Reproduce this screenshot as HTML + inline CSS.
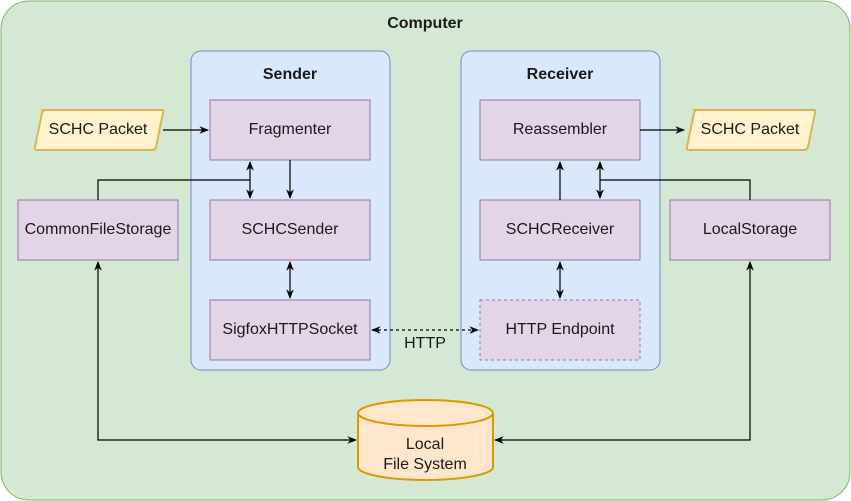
<!DOCTYPE html>
<html><head><meta charset="utf-8"><style>html,body{margin:0;padding:0;background:#fff}svg{display:block}text{font-family:"Liberation Sans",Arial,sans-serif;font-size:16px;fill:#1a1a1a}</style></head>
<body>
<svg width="851" height="501" viewBox="0 0 851 501" xmlns="http://www.w3.org/2000/svg">
<defs>
<marker id="a" viewBox="0 0 10 10" refX="9" refY="5" markerWidth="8" markerHeight="8" orient="auto-start-reverse"><path d="M0,1 L10,5 L0,9 L3,5 Z" fill="#000"/></marker>
</defs>
<rect x="1" y="1" width="849" height="499" rx="28" fill="#d5e8d4" stroke="#82b366"/>
<text x="425" y="28" text-anchor="middle" font-weight="bold">Computer</text>
<rect x="191" y="51" width="199" height="319" rx="10" fill="#dae8fc" stroke="#6c8ebf"/>
<text x="290" y="79" text-anchor="middle" font-weight="bold">Sender</text>
<rect x="461" y="51" width="199" height="319" rx="10" fill="#dae8fc" stroke="#6c8ebf"/>
<text x="560" y="79" text-anchor="middle" font-weight="bold">Receiver</text>
<g fill="#e1d5e7" stroke="#9673a6">
<rect x="210" y="100" width="160" height="60"/>
<rect x="210" y="200" width="160" height="60"/>
<rect x="210" y="300" width="160" height="60"/>
<rect x="480" y="100" width="160" height="60"/>
<rect x="480" y="200" width="160" height="60"/>
<rect x="480" y="300" width="160" height="60" stroke-dasharray="3,3"/>
<rect x="18" y="200" width="160" height="60"/>
<rect x="670" y="200" width="160" height="60"/>
</g>
<g text-anchor="middle">
<text x="290" y="134">Fragmenter</text>
<text x="290" y="234">SCHCSender</text>
<text x="290" y="334">SigfoxHTTPSocket</text>
<text x="560" y="134">Reassembler</text>
<text x="560" y="234">SCHCReceiver</text>
<text x="560" y="334">HTTP Endpoint</text>
<text x="98" y="234">CommonFileStorage</text>
<text x="750" y="234">LocalStorage</text>
</g>
<path d="M41,110 L162,110 Q164,110 163,113 L156,147 Q155,150 152,150 L37,150 Q34,150 35,147 L42,113 Q43,110 46,110 Z" fill="#fff2cc" stroke="#d6b656" stroke-width="2"/>
<text x="98" y="134" text-anchor="middle">SCHC Packet</text>
<path d="M693,110 L814,110 Q816,110 815,113 L808,147 Q807,150 804,150 L689,150 Q686,150 687,147 L694,113 Q695,110 698,110 Z" fill="#fff2cc" stroke="#d6b656" stroke-width="2"/>
<text x="750" y="134" text-anchor="middle">SCHC Packet</text>
<path d="M358,413 L358,467 A67.5,13 0 0 0 493,467 L493,413" fill="#ffe6cc" stroke="#d79b00" stroke-width="2"/>
<ellipse cx="425.5" cy="413" rx="67.5" ry="13" fill="#ffe6cc" stroke="#d79b00" stroke-width="2"/>
<text x="425" y="449" text-anchor="middle">Local</text>
<text x="425" y="469" text-anchor="middle">File System</text>
<g stroke="#000" fill="none" stroke-width="1.2">
<path d="M163,130 H208" marker-end="url(#a)"/>
<path d="M290,160 V198" marker-end="url(#a)"/>
<path d="M250,162 V198" marker-start="url(#a)" marker-end="url(#a)"/>
<path d="M98,200 V180 H250"/>
<path d="M290,262 V298" marker-start="url(#a)" marker-end="url(#a)"/>
<path d="M372,330 H478" stroke-dasharray="3,3" marker-start="url(#a)" marker-end="url(#a)"/>
<path d="M98,262 V440 H356" marker-start="url(#a)" marker-end="url(#a)"/>
<path d="M750,262 V440 H495" marker-start="url(#a)" marker-end="url(#a)"/>
<path d="M560,200 V162" marker-end="url(#a)"/>
<path d="M600,162 V198" marker-start="url(#a)" marker-end="url(#a)"/>
<path d="M750,200 V180 H600"/>
<path d="M560,262 V298" marker-start="url(#a)" marker-end="url(#a)"/>
<path d="M640,130 H684" marker-end="url(#a)"/>
</g>
<text x="425" y="348" text-anchor="middle">HTTP</text>
</svg>
</body></html>
